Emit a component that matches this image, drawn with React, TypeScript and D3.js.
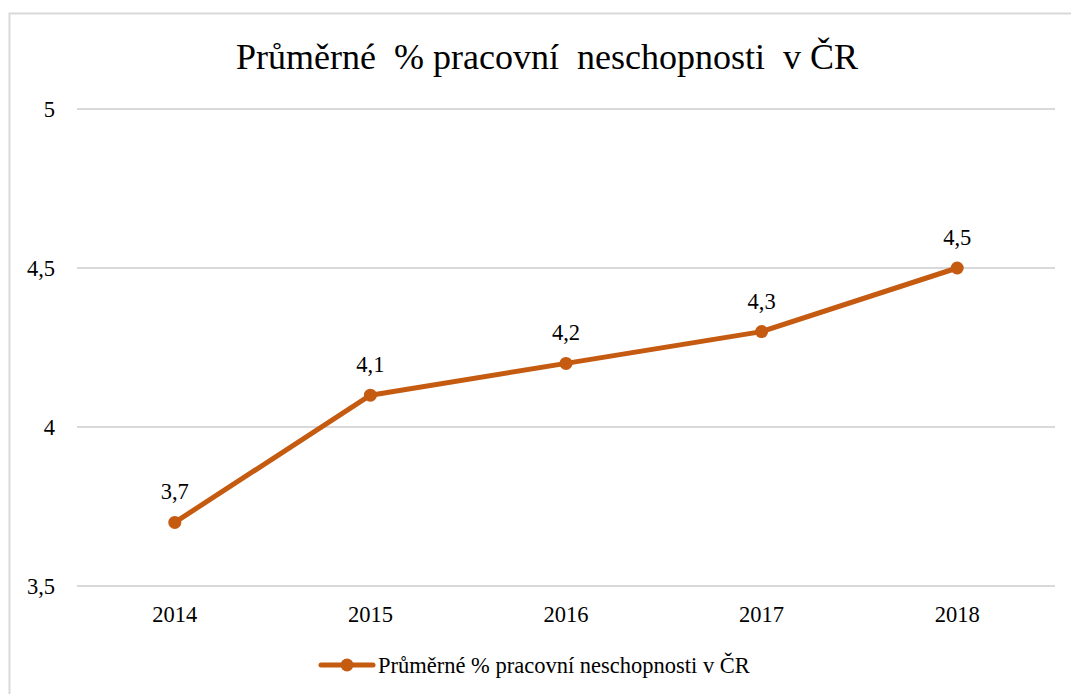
import * as d3 from "d3";

const years = ["2014", "2015", "2016", "2017", "2018"];
const values = [3.7, 4.1, 4.2, 4.3, 4.5];
const yTicks = [3.5, 4, 4.5, 5];
const title = "Průměrné  % pracovní  neschopnosti  v ČR";
const seriesName = "Průměrné % pracovní neschopnosti v ČR";

const W = 1071;
const H = 694;
const color = "#C55A11";
const font = "'Liberation Serif', 'Times New Roman', serif";
const fmt = (v: number) => String(v).replace(".", ",");

export default function App() {
  const x = d3.scalePoint<string>().domain(years).range([77, 1055]).padding(0.5);
  const y = d3.scaleLinear().domain([3.5, 5]).range([586, 109]);
  const line = d3
    .line<number>()
    .x((_, i) => x(years[i]) as number)
    .y((d) => y(d));

  return (
    <div style={{ position: "fixed", left: 0, top: 0 }}>
      <svg width={W} height={H} viewBox={`0 0 ${W} ${H}`} style={{ display: "block", background: "#fff" }}>
        <rect x={9.5} y={13.5} width={W + 20} height={H + 20} fill="#fff" stroke="#d9d9d9" strokeWidth={2} />
        <text x={547} y={69} textAnchor="middle" fontFamily={font} fontSize={36} fill="#000" style={{ whiteSpace: "pre" }}>
          {title}
        </text>
        <g>
          {yTicks.map((t) => (
            <g key={t}>
              <line x1={77} x2={1055} y1={y(t)} y2={y(t)} stroke="#d9d9d9" strokeWidth={2} />
              <text x={55} y={y(t) + 8} textAnchor="end" fontFamily={font} fontSize={22.5} fill="#000">
                {fmt(t)}
              </text>
            </g>
          ))}
        </g>
        <g>
          {years.map((yr) => (
            <text key={yr} x={x(yr)} y={622} textAnchor="middle" fontFamily={font} fontSize={22.5} fill="#000">
              {yr}
            </text>
          ))}
        </g>
        <path d={line(values) ?? ""} fill="none" stroke={color} strokeWidth={5} strokeLinejoin="round" strokeLinecap="round" />
        {values.map((v, i) => (
          <g key={years[i]}>
            <circle cx={x(years[i])} cy={y(v)} r={6.5} fill={color} />
            <text x={x(years[i])} y={y(v) - 23} textAnchor="middle" fontFamily={font} fontSize={22.5} fill="#000">
              {fmt(v)}
            </text>
          </g>
        ))}
        <g>
          <line x1={321} x2={373} y1={665} y2={665} stroke={color} strokeWidth={5} strokeLinecap="round" />
          <circle cx={347} cy={665} r={6.5} fill={color} />
          <text x={378} y={673} fontFamily={font} fontSize={22.5} fill="#000">
            {seriesName}
          </text>
        </g>
      </svg>
    </div>
  );
}
